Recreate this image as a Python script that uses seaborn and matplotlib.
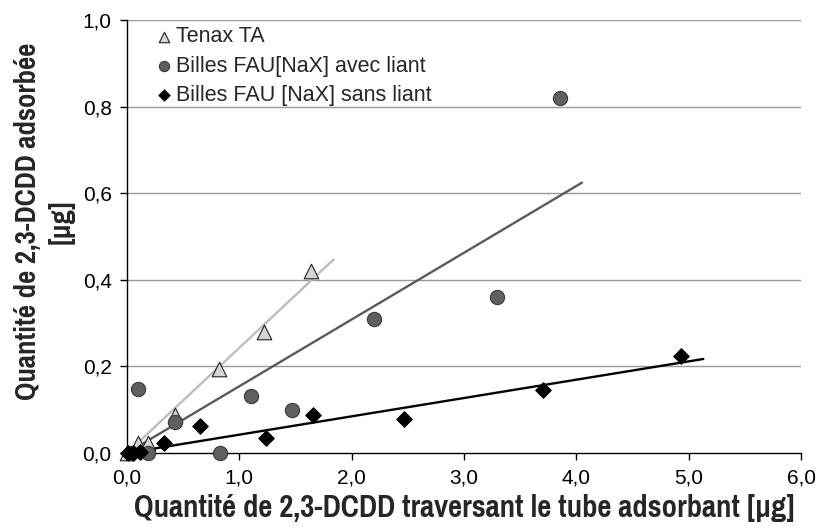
import numpy as np
import pandas as pd
import matplotlib
matplotlib.use("Agg")
import matplotlib.pyplot as plt
import seaborn as sns
from matplotlib import font_manager
from matplotlib.font_manager import FontProperties

# Series: quantity passed through the tube (x) vs quantity adsorbed (y), in µg
tenax_x = [1.64, 1.22, 0.82, 0.43, 0.10, 0.19, 0.0]
tenax_y = [0.42, 0.28, 0.195, 0.088, 0.023, 0.023, 0.0]

avec_x = [3.85, 3.29, 2.20, 1.47, 1.10, 0.83, 0.43, 0.10, 0.19, 0.04]
avec_y = [0.82, 0.36, 0.31, 0.10, 0.132, 0.0, 0.072, 0.148, 0.0, 0.0]

sans_x = [4.93, 3.70, 2.47, 1.66, 1.24, 0.65, 0.33, 0.01, 0.05, 0.12]
sans_y = [0.224, 0.145, 0.078, 0.088, 0.035, 0.062, 0.023, 0.0, 0.0, 0.002]

series_names = ["Tenax TA", "Billes FAU[NaX] avec liant", "Billes FAU [NaX] sans liant"]

x_ticks = [0, 1, 2, 3, 4, 5, 6]
x_tick_labels = ["0,0", "1,0", "2,0", "3,0", "4,0", "5,0", "6,0"]
y_ticks = [0.0, 0.2, 0.4, 0.6, 0.8, 1.0]
y_tick_labels = ["0,0", "0,2", "0,4", "0,6", "0,8", "1,0"]

x_title = "Quantité de 2,3-DCDD traversant le tube adsorbant [µg]"
y_title = "Quantité de 2,3-DCDD adsorbée\n[µg]"

sns.set_theme(style="white")
plt.rcParams["font.family"] = ["Liberation Sans", "DejaVu Sans"]


def condensed_bold():
    """Pick a bold condensed/narrow face for the axis titles if one is installed."""
    cands = []
    for f in font_manager.fontManager.ttflist:
        low = f.fname.lower()
        if ("condensed" in low or "narrow" in low) and (
            "bold" in low or (isinstance(f.weight, int) and f.weight >= 700)
            or f.weight == "bold"
        ) and "oblique" not in low and "italic" not in low:
            cands.append(f.fname)
    if cands:
        cands.sort(key=lambda p: (0 if "narrow" in p.lower() else 1, len(p)))
        return FontProperties(fname=cands[0]), True
    return FontProperties(family="Liberation Sans", weight="bold"), False


title_fp, is_condensed = condensed_bold()

fig = plt.figure(figsize=(8.22, 5.30), dpi=100)
ax = fig.add_axes([0.1545, 0.1453, 0.82, 0.817])

styles = [
    dict(marker="^", face="#d4d4d4", edge="#222222", s=110, line="#bdbdbd"),
    dict(marker="o", face="#5f5f5f", edge="#3a3a3a", s=105, line="#5a5a5a"),
    dict(marker="D", face="#000000", edge="#000000", s=62, line="#000000"),
]
data = [(tenax_x, tenax_y), (avec_x, avec_y), (sans_x, sans_y)]

# Linear trendlines forced through the origin, extended a little past the last point
for (xs, ys), st in zip(data, styles):
    xs = np.asarray(xs)
    ys = np.asarray(ys)
    slope = np.sum(xs * ys) / np.sum(xs * xs)
    xl = np.array([0.0, xs.max() + 0.2])
    sns.lineplot(x=xl, y=slope * xl, ax=ax, color=st["line"], lw=1.7,
                 legend=False, zorder=2)

for (xs, ys), st, name in zip(data, styles, series_names):
    df = pd.DataFrame({"x": xs, "y": ys})
    sns.scatterplot(data=df, x="x", y="y", ax=ax, marker=st["marker"], s=st["s"],
                    color=st["face"], edgecolor=st["edge"], linewidth=0.8,
                    label=name, zorder=3, clip_on=False)

ax.set_xlim(0, 6)
ax.set_ylim(0, 1.0)
ax.set_xticks(x_ticks)
ax.set_xticklabels(x_tick_labels)
ax.set_yticks(y_ticks)
ax.set_yticklabels(y_tick_labels)
ax.tick_params(axis="both", labelsize=15, colors="#000000", length=5, width=1,
               direction="out", bottom=True, left=True, pad=6)

for y in y_ticks[1:]:
    ax.axhline(y, color="#9a9a9a", lw=1.0, zorder=0)

for side in ["top", "right"]:
    ax.spines[side].set_visible(False)
for side in ["left", "bottom"]:
    ax.spines[side].set_color("#000000")
    ax.spines[side].set_linewidth(1.0)

xt_size = 24 if is_condensed else 16
yt_size = 22.5 if is_condensed else 15
xfp = title_fp.copy()
xfp.set_size(xt_size)
yfp = title_fp.copy()
yfp.set_size(yt_size)
ax.set_xlabel(x_title, fontproperties=xfp, labelpad=5)
ax.set_ylabel(y_title, fontproperties=yfp, linespacing=1.3)
ax.yaxis.set_label_coords(-0.077, 0.535)

leg = ax.legend(loc="upper left", bbox_to_anchor=(0.03, 1.005), frameon=False,
                fontsize=15.5, handletextpad=0.15, borderaxespad=0.0, labelspacing=0.38,
                markerscale=0.72, handlelength=0.8)

fig.savefig("out.png", dpi=100)
